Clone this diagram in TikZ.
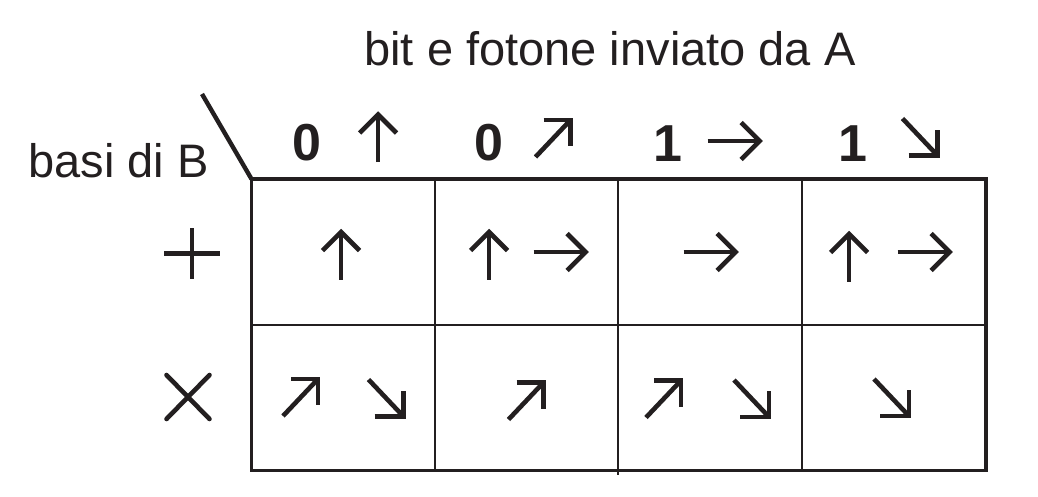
\documentclass[tikz,border=0pt]{standalone}
\usepackage{fontspec}
\setmainfont{Liberation Sans}
\usetikzlibrary{calc}
\definecolor{ink}{RGB}{35,31,32}
\begin{document}
\begin{tikzpicture}[x=1pt,y=-1pt,
  arr/.style={draw=ink, line width=4.6pt, line cap=butt, line join=miter},
  outer/.style={draw=ink, line width=3.2pt},
  inner/.style={draw=ink, line width=2pt},
  label/.style={text=ink, inner sep=0pt, anchor=base, font=\fontsize{47}{56}\selectfont},
  bitlabel/.style={text=ink, inner sep=0pt, anchor=base, font=\fontsize{52}{60}\selectfont\bfseries},
  pics/aup/.style={code={
    \draw[arr] (0,25) -- (0,-22.5);
    \draw[arr] (-18.5,-4) -- (0,-22.5) -- (18.5,-4);}},
  pics/aright/.style={code={
    \draw[arr] (-27,0) -- (25,0);
    \draw[arr] (6.5,-18.5) -- (25,0) -- (6.5,18.5);}},
  pics/ane/.style={code={
    \draw[arr] (-18,19) -- (17,-18);
    \draw[arr] (-10,-18) -- (17,-18) -- (17,8);}},
  pics/ase/.style={code={
    \draw[arr] (-18,-19) -- (17,18);
    \draw[arr] (-12,18) -- (17,18) -- (17,-8);}}
]
\useasboundingbox (0,0) rectangle (1038,496);
\fill[white] (0,0) rectangle (1038,496);

% table
\coordinate (tl) at (251.5,179);
\coordinate (br) at (986,470.5);
\draw[inner] (435,179) -- (435,470.5);
\draw[inner] (617.5,179) -- (617.5,475);
\draw[inner] (802,179) -- (802,470.5);
\draw[inner] (251.5,325) -- (986,325);
\draw[outer] (tl) rectangle (br);
\coordinate (dg) at (202,94);
\draw[draw=ink, line width=4.4pt] (dg) -- (tl);

% labels
\node[label] (title) at (610,65) {bit e fotone inviato da A};
\node[label] (basi) at (118.5,177) {basi di B};

% plus and times
\coordinate (plus) at (192,253.5);
\draw[arr] ($(plus)+(-28,0)$) -- ($(plus)+(28,0)$);
\draw[arr] ($(plus)+(0,-25.5)$) -- ($(plus)+(0,25.5)$);
\coordinate (times) at (188,397);
\draw[arr, line cap=round] ($(times)+(-21.5,-22)$) -- ($(times)+(21.5,22)$);
\draw[arr, line cap=round] ($(times)+(-21.5,22)$) -- ($(times)+(21.5,-22)$);

% header
\node[bitlabel] (b1) at (307,160) {0};
\node[bitlabel] (b2) at (489,160) {0};
\node[bitlabel] (b3) at (668,161) {1};
\node[bitlabel] (b4) at (853,161) {1};
\pic (h1) at (378,137) {aup};
\pic (h2) at (553.5,138) {ane};
\pic (h3) at (734.5,141) {aright};
\pic (h4) at (920.5,137.5) {ase};

% row +
\pic (p1) at (341,254.5) {aup};
\pic (p2a) at (489,254.5) {aup};
\pic (p2b) at (560.5,252) {aright};
\pic (p3) at (710.5,252) {aright};
\pic (p4a) at (849,256.5) {aup};
\pic (p4b) at (924.5,252) {aright};

% row x
\pic (x1a) at (301,397) {ane};
\pic (x1b) at (386.5,398.5) {ase};
\pic (x2) at (526.5,400.5) {ane};
\pic (x3a) at (664,398.5) {ane};
\pic (x3b) at (752,399) {ase};
\pic (x4) at (892,398) {ase};
\end{tikzpicture}
\end{document}
